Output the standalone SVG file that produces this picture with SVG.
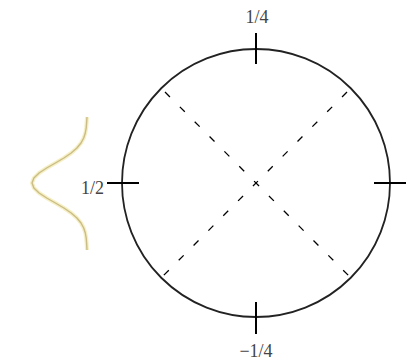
<svg xmlns="http://www.w3.org/2000/svg" width="410" height="361" viewBox="0 0 410 361">
<style>
.lbl{font-family:"Liberation Serif","DejaVu Serif",serif;font-size:18px;fill:#444}
.tick{stroke:#000;stroke-width:2;fill:none}
.diag{stroke:#000;stroke-width:1.3;stroke-dasharray:7 14;fill:none}
</style>
<rect width="410" height="361" fill="#fff"/>
<g id="gauss">
<path d="M87,117 L86.6,123 L86.2,128 L85.3,133 L83.7,138 L81,143 L76.9,148 L71.2,153 L63.9,158 L55.4,163 L46.7,168 L39.1,173 L33.9,178 L32,183 L33.9,188 L39.1,193 L46.7,198 L55.4,203 L63.9,208 L71.2,213 L76.9,218 L81,223 L83.7,228 L85.3,233 L86.2,238 L86.6,243 L87,250" fill="none" stroke="#f6efc4" stroke-width="4" stroke-linejoin="round"/>
<path d="M87,117 L86.6,123 L86.2,128 L85.3,133 L83.7,138 L81,143 L76.9,148 L71.2,153 L63.9,158 L55.4,163 L46.7,168 L39.1,173 L33.9,178 L32,183 L33.9,188 L39.1,193 L46.7,198 L55.4,203 L63.9,208 L71.2,213 L76.9,218 L81,223 L83.7,228 L85.3,233 L86.2,238 L86.6,243 L87,250" fill="none" stroke="#c9bc86" stroke-width="1.4" stroke-linejoin="round"/>
</g>
<g id="circle">
<circle cx="256" cy="183" r="134" fill="none" stroke="#222" stroke-width="1.8"/>
</g>
<g id="connectors">
<line class="diag" x1="165" y1="92" x2="349" y2="276"/>
<line class="diag" x1="347" y1="92" x2="163" y2="276"/>
<line class="tick" x1="256" y1="33" x2="256" y2="64"/>
<line class="tick" x1="256" y1="302" x2="256" y2="334"/>
<line class="tick" x1="107" y1="183" x2="139" y2="183"/>
<line class="tick" x1="374" y1="183" x2="406" y2="183"/>
</g>
<g id="labels">
<text class="lbl" x="257" y="23" text-anchor="middle">1/4</text>
<text class="lbl" x="104" y="194" text-anchor="end">1/2</text>
<text class="lbl" x="256" y="357" text-anchor="middle">−1/4</text>
</g>
</svg>
